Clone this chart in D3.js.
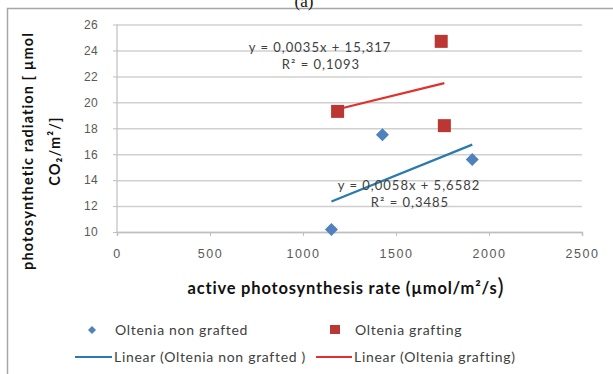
<!DOCTYPE html>
<html>
<head>
<meta charset="utf-8">
<script src="https://cdn.jsdelivr.net/npm/d3@7/dist/d3.min.js"></script>
<style>
  body { margin: 0; background: #fff; }
  svg { display: block; font-family: Lato, "Open Sans", sans-serif; }
</style>
</head>
<body>
<svg id="chart" width="613" height="374"></svg>
<script>
// data
const nonGraftedX = [1153, 1427, 1910];
const nonGraftedY = [10.2, 17.5, 15.6];
const graftingX = [1186, 1743, 1760];
const graftingY = [19.3, 24.7, 18.2];

const xTicks = [0, 500, 1000, 1500, 2000, 2500];
const yTicks = [10, 12, 14, 16, 18, 20, 22, 24, 26];

// trendlines as printed on the chart
const trendNon = { slope: 0.0058, intercept: 5.6582, eq: "y = 0,0058x + 5,6582", r2: "R\u00b2 = 0,3485" };
const trendGraft = { slope: 0.0035, intercept: 15.317, eq: "y = 0,0035x + 15,317", r2: "R\u00b2 = 0,1093" };

const blue = "#4f81bd", red = "#bc3633";
const blueLine = "#2a7ab0", redLine = "#e2302c";

const svg = d3.select("#chart");

const x = d3.scaleLinear().domain([0, 2500]).range([117, 582]);
const y = d3.scaleLinear().domain([10, 26]).range([232, 24.5]);

// frame
svg.append("path")
  .attr("d", "M7.5,374 L7.5,8.5 L613,8.5")
  .attr("fill", "none")
  .attr("stroke", "#a6a6a6")
  .attr("stroke-width", 1.5);

svg.append("text")
  .attr("x", 304).attr("y", 7)
  .attr("text-anchor", "middle")
  .attr("font-family", "'Liberation Serif', serif")
  .attr("font-size", 17)
  .attr("fill", "#111")
  .text("(a)");

// gridlines + y axis
const gy = svg.append("g")
  .attr("transform", "translate(117,0)")
  .call(d3.axisLeft(y).tickValues(yTicks).tickSize(-(582 - 117)).tickPadding(19).tickFormat(d3.format("d")));
gy.select(".domain").remove();
gy.selectAll(".tick line").attr("stroke", "#d0d0d0").attr("stroke-width", 1.5);
gy.selectAll(".tick text").attr("fill", "#595959").attr("font-size", 12).attr("letter-spacing", 0.3);
gy.selectAll(".tick").append("line")
  .attr("x1", -4).attr("x2", 0)
  .attr("stroke", "#bfbfbf");

svg.append("line")
  .attr("x1", 117).attr("x2", 117)
  .attr("y1", y(26)).attr("y2", y(10))
  .attr("stroke", "#bfbfbf").attr("stroke-width", 1.2);

// x axis
const gx = svg.append("g")
  .attr("transform", "translate(0," + y(10) + ")")
  .call(d3.axisBottom(x).tickValues(xTicks).tickSize(4).tickPadding(13).tickFormat(d3.format("d")));
gx.select(".domain").attr("stroke", "#bfbfbf").attr("stroke-width", 1.5);
gx.selectAll(".tick line").attr("stroke", "#bfbfbf");
gx.selectAll(".tick text").attr("fill", "#595959").attr("font-size", 12.5).attr("letter-spacing", 1.6);

// trendlines
function trend(xs, t, color) {
  const x0 = d3.min(xs), x1 = d3.max(xs);
  svg.append("line")
    .attr("x1", x(x0)).attr("y1", y(t.slope * x0 + t.intercept))
    .attr("x2", x(x1)).attr("y2", y(t.slope * x1 + t.intercept))
    .attr("stroke", color).attr("stroke-width", 2.2);
}
trend(nonGraftedX, trendNon, blueLine);
trend(graftingX, trendGraft, redLine);

// points
const nonPts = nonGraftedX.map((v, i) => [v, nonGraftedY[i]]);
const graftPts = graftingX.map((v, i) => [v, graftingY[i]]);

svg.append("g").selectAll("path")
  .data(nonPts).join("path")
  .attr("transform", d => "translate(" + x(d[0]) + "," + y(d[1]) + ")")
  .attr("d", "M0,-6.5 L6.5,0 L0,6.5 L-6.5,0 Z")
  .attr("fill", blue);

svg.append("g").selectAll("rect")
  .data(graftPts).join("rect")
  .attr("x", d => x(d[0]) - 6.5).attr("y", d => y(d[1]) - 6.5)
  .attr("width", 13).attr("height", 13)
  .attr("fill", red);

// equations
function eqLabel(cx, cy, t) {
  const g = svg.append("g").attr("fill", "#404040").attr("font-size", 13).attr("letter-spacing", 1).attr("text-anchor", "middle");
  g.append("text").attr("x", cx).attr("y", cy).text(t.eq);
  g.append("text").attr("x", cx + 1).attr("y", cy + 17).text(t.r2);
}
eqLabel(320, 52, trendGraft);
eqLabel(409, 190, trendNon);

// axis titles
svg.append("text")
  .attr("x", 346).attr("y", 294)
  .attr("text-anchor", "middle")
  .attr("font-weight", "bold")
  .attr("font-size", 16.5)
  .attr("letter-spacing", 0.8)
  .attr("fill", "#111")
  .text("active photosynthesis rate (\u00b5mol/m\u00b2/s")
  .append("tspan").attr("font-size", 23).attr("font-weight", "normal").attr("dy", 1).text(")");

const yt = svg.append("g")
  .attr("transform", "translate(0,151) rotate(-90)")
  .attr("text-anchor", "middle")
  .attr("font-weight", "bold")
  .attr("font-size", 14.5)
  .attr("letter-spacing", 1.1)
  .attr("fill", "#111");
yt.append("text").attr("x", 0).attr("y", 33).text("photosynthetic radiation [ \u00b5mol");
yt.append("text").attr("x", 0).attr("y", 60).text("CO\u2082/m\u00b2/]");

// legend
const lg = svg.append("g").attr("font-size", 14).attr("letter-spacing", 0.7).attr("fill", "#404040");
lg.append("path").attr("d", "M92,326 L96,330 L92,334 L88,330 Z").attr("fill", blue);
lg.append("text").attr("x", 115).attr("y", 335).text("Oltenia non grafted");
lg.append("rect").attr("x", 330).attr("y", 325).attr("width", 10).attr("height", 9).attr("fill", red);
lg.append("text").attr("x", 355).attr("y", 335).text("Oltenia grafting");
lg.append("line").attr("x1", 75).attr("x2", 112).attr("y1", 357).attr("y2", 357).attr("stroke", blueLine).attr("stroke-width", 2.2);
lg.append("text").attr("x", 114).attr("y", 362).text("Linear (Oltenia non grafted )");
lg.append("line").attr("x1", 316).attr("x2", 352).attr("y1", 357).attr("y2", 357).attr("stroke", redLine).attr("stroke-width", 2.2);
lg.append("text").attr("x", 354).attr("y", 362).text("Linear (Oltenia grafting)");
</script>
</body>
</html>
